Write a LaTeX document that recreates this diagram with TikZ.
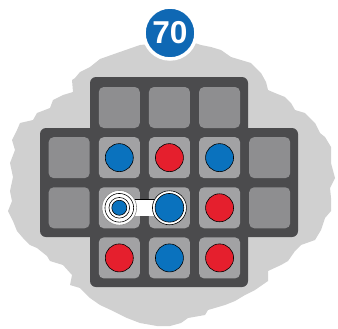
\documentclass[tikz,border=0pt]{standalone}
\usepackage{tikz}
\usepackage{fontspec}
\setmainfont{Liberation Sans}
\usetikzlibrary{positioning}
\definecolor{blobgrey}{HTML}{D0D0D0}
\definecolor{framegrey}{HTML}{4B4B4D}
\definecolor{cellgrey}{HTML}{8E8E90}
\definecolor{usedgrey}{HTML}{A2A2A4}
\definecolor{pieceblue}{HTML}{0A72BE}
\definecolor{piecered}{HTML}{E51F2D}
\definecolor{badgeblue}{HTML}{0F68B4}

\begin{document}
\begin{tikzpicture}[
    x=0.03cm, y=-0.03cm,
    node distance=0.26cm,
    cell/.style={rectangle, fill=cellgrey, rounded corners=0.15cm, minimum size=1.23cm, inner sep=0pt},
    usedcell/.style={cell, fill=usedgrey},
    bluepiece/.style={circle, fill=pieceblue, draw=black, line width=0.5pt, minimum size=0.84cm, inner sep=0pt},
    redpiece/.style={bluepiece, fill=piecered},
    ringwhite/.style={circle, fill=white, draw=black, line width=0.5pt, inner sep=0pt},
    link/.style={draw=black, line width=0.4pt, double=white, double distance=0.48cm},
    badge/.style={circle, fill=badgeblue, draw=white, line width=3pt, minimum size=1.56cm, inner sep=0pt, text=white, font=\fontsize{27}{27}\selectfont\bfseries},
]
    \useasboundingbox (0,0) rectangle (338,328);

    % rough grey patch behind the board
    \fill[blobgrey] (140,45) -- (117,53) -- (100,59) -- (90,67) -- (80,72) -- (75,78) -- (72,80)
        -- (73,92) -- (63,95) -- (53,100) -- (50,108) -- (37,113) -- (33,120) -- (20,123)
        -- (17,130) -- (12,140) -- (15,150) -- (10,163) -- (13,177) -- (10,191) -- (12,201)
        -- (8,211) -- (13,221) -- (17,231) -- (23,238) -- (30,245) -- (37,248) -- (47,256)
        -- (50,261) -- (63,265) -- (72,275) -- (70,285) -- (80,288) -- (90,298) -- (100,305)
        -- (113,311) -- (127,318) -- (140,323) -- (157,326) -- (170,326) -- (181,323)
        -- (188,318) -- (205,315) -- (208,310) -- (225,305) -- (235,301) -- (245,295)
        -- (255,290) -- (268,281) -- (268,271) -- (281,265) -- (288,261) -- (295,251)
        -- (301,245) -- (315,240) -- (321,230) -- (325,218) -- (331,211) -- (331,198)
        -- (330,188) -- (335,178) -- (331,163) -- (331,147) -- (325,137) -- (320,133)
        -- (315,123) -- (305,113) -- (295,110) -- (291,103) -- (285,97) -- (275,93)
        -- (268,90) -- (266,82) -- (261,73) -- (251,63) -- (241,60) -- (231,57) -- (221,50)
        -- (211,47) -- (201,45) -- (195,43) -- (170,42) -- cycle;

    % board frame
    \fill[framegrey, rounded corners=0.18cm] (90,77) rectangle (248,287);
    \fill[framegrey, rounded corners=0.18cm] (40,128) rectangle (298,237);

    % cells
    \node[cell] (c12) at (119.3,107.5) {};
    \node[cell, right=of c12] (c13) {};
    \node[cell, right=of c13] (c14) {};
    \node[usedcell, below=of c12] (c22) {};
    \node[cell, left=of c22] (c21) {};
    \node[usedcell, right=of c22] (c23) {};
    \node[usedcell, right=of c23] (c24) {};
    \node[cell, right=of c24] (c25) {};
    \node[usedcell, below=of c22] (c32) {};
    \node[cell, left=of c32] (c31) {};
    \node[usedcell, right=of c32] (c33) {};
    \node[usedcell, right=of c33] (c34) {};
    \node[cell, right=of c34] (c35) {};
    \node[usedcell, below=of c32] (c42) {};
    \node[usedcell, right=of c42] (c43) {};
    \node[usedcell, right=of c43] (c44) {};

    % linked pair
    \draw[link] (c32.center) -- (c33.center);
    \node[ringwhite, draw=black!45, minimum size=1.04cm] (r32) at (c32) {};
    \node[ringwhite, minimum size=0.86cm] (s32) at (r32) {};
    \node[ringwhite, minimum size=0.62cm] (t32) at (s32) {};
    \node[bluepiece, minimum size=0.45cm] (p32) at (t32) {};
    \node[ringwhite, minimum size=1.02cm] (r33) at (c33) {};
    \node[bluepiece, minimum size=0.86cm] (p33) at (r33) {};

    % pieces
    \node[bluepiece] (p22) at (c22) {};
    \node[redpiece] (p23) at (c23) {};
    \node[bluepiece] (p24) at (c24) {};
    \node[redpiece] (p34) at (c34) {};
    \node[redpiece] (p42) at (c42) {};
    \node[bluepiece] (p43) at (c43) {};
    \node[redpiece] (p44) at (c44) {};

    \node[badge] (level) at (170,33) {70};
\end{tikzpicture}
\end{document}
